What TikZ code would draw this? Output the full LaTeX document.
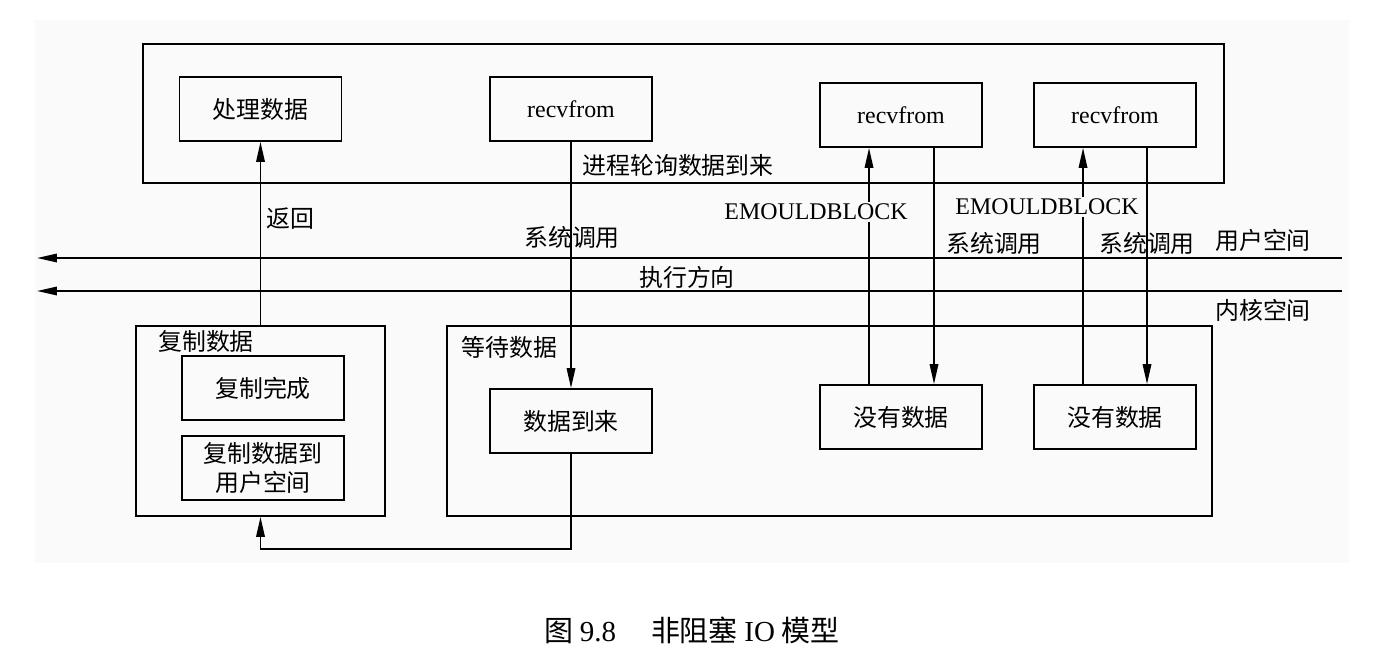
\documentclass[tikz,border=0pt]{standalone}
\usepackage{fontspec}
\setmainfont{Noto Sans CJK SC}
\newfontfamily\tms{Liberation Serif}
\usetikzlibrary{arrows.meta,positioning,calc}
\definecolor{bgc}{HTML}{FAFAFA}

\begin{document}
\begin{tikzpicture}[
    x=0.02cm, y=-0.02cm,
    every node/.style={font=\fontsize{13.6}{17}\selectfont},
    box/.style={draw, line width=1pt, minimum width=3.24cm, minimum height=1.28cm, align=center, inner sep=0pt},
    frame/.style={draw, line width=1pt, inner sep=0pt},
    arr/.style={-{Triangle[length=4mm, width=1.7mm]}, line width=1pt},
    lbl/.style={inner sep=1pt},
    blbl/.style={fill=bgc, inner sep=1pt}
]
\useasboundingbox (0,0) rectangle (1385,650);
\fill[bgc] (35,20) rectangle (1349,563);

% user space
\node[frame, minimum width=21.62cm, minimum height=2.78cm] (user) at (683.5,113.5) {};
\node[box] (proc) at (260.5,109) {处理数据};
\node[box] (recv1) at (571,109) {\tms recvfrom};
\node[box] (recv2) at (901,115) {\tms recvfrom};
\node[box] (recv3) at (1115,115) {\tms recvfrom};

% kernel space
\node[frame, minimum width=4.98cm, minimum height=3.8cm] (copy) at (260.5,421) {};
\node[box] (done) at (263,388) {复制完成};
\node[box] (tousr) at (263,468) {复制数据到\\用户空间};
\node[frame, minimum width=15.3cm, minimum height=3.8cm] (wait) at (829.5,421) {};
\node[box] (arrive) at (571,421) {数据到来};
\node[box] (nod1) at (901,417) {没有数据};
\node[box] (nod2) at (1115,417) {没有数据};

\node[lbl] (copyt) at (206,341) {复制数据};
\node[lbl] (waitt) at (509.5,347) {等待数据};

% direction lines
\coordinate (u1) at (1342,258);
\coordinate (u0) at (37,258);
\coordinate (k1) at (1342,291);
\coordinate (k0) at (37,291);
\draw[arr] (u1) -- (u0);
\draw[arr] (k1) -- (k0);

% calls
\draw[arr] (copy.north) -- (proc.south);
\draw[arr] (recv1.south) -- (arrive.north);
\draw[arr] (arrive.south) -- ++(0,95) -| (copy.south);
\draw[arr] ([xshift=-0.64cm]nod1.north) -- ([xshift=-0.64cm]recv2.south);
\draw[arr] ([xshift=0.66cm]recv2.south) -- ([xshift=0.66cm]nod1.north);
\draw[arr] ([xshift=-0.64cm]nod2.north) -- ([xshift=-0.64cm]recv3.south);
\draw[arr] ([xshift=0.64cm]recv3.south) -- ([xshift=0.64cm]nod2.north);

% labels
\node[lbl] (ret) at (290,219) {返回};
\node[lbl] (poll) at (678,165) {进程轮询数据到来};
\node[lbl] (sc1) at (572,237) {系统调用};
\node[lbl] (sc2) at (994,243) {系统调用};
\node[lbl] (sc3) at (1147,243) {系统调用};
\node[blbl] (ew1) at (816,212) {\tms EMOULDBLOCK};
\node[blbl] (ew2) at (1047,207) {\tms EMOULDBLOCK};
\node[lbl] (dir) at (687,277) {执行方向};
\node[lbl] (us) at (1263,240) {用户空间};
\node[lbl] (ks) at (1263,310) {内核空间};

\node[lbl, font=\fontsize{16.5}{20}\selectfont] (cap) at (692,630) {图 {\tms 9.8}\hspace{1.2em}非阻塞 {\tms IO} 模型};
\end{tikzpicture}
\end{document}
